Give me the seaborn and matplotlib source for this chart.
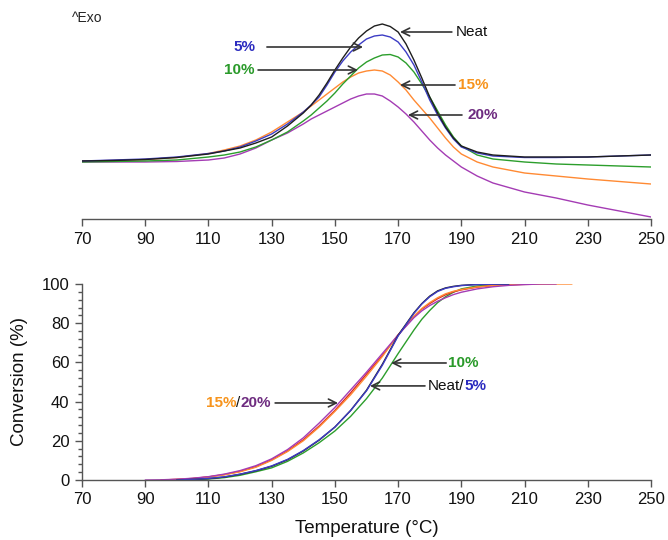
import numpy as np
import pandas as pd
import matplotlib
matplotlib.use("Agg")
import matplotlib.pyplot as plt
import seaborn as sns
from matplotlib.offsetbox import TextArea, HPacker, AnnotationBbox
from matplotlib.ticker import MultipleLocator

# ---------------- DATA ----------------
# Top panel: DSC heat flow (arbitrary units, exo up)
T_dsc = [70, 80, 90, 100, 110, 115, 120, 125, 130, 135, 140, 142.5, 145, 147.5, 150, 152.5,
         155, 157.5, 160, 162.5, 165, 167.5, 170, 172.5, 175, 177.5, 180, 182.5, 185, 187.5,
         190, 195, 200, 210, 220, 230, 240, 250]
hf_neat = [0.58, 0.585, 0.595, 0.615, 0.65, 0.68, 0.71, 0.76, 0.82, 0.93, 1.06, 1.14, 1.24, 1.36,
           1.49, 1.61, 1.72, 1.81, 1.88, 1.93, 1.95, 1.925, 1.87, 1.75, 1.59, 1.41, 1.22, 1.06,
           0.92, 0.81, 0.73, 0.67, 0.64, 0.62, 0.62, 0.62, 0.63, 0.64]
hf_5 = [0.58, 0.59, 0.60, 0.62, 0.655, 0.68, 0.72, 0.78, 0.85, 0.95, 1.07, 1.14, 1.22, 1.34,
        1.47, 1.58, 1.67, 1.74, 1.80, 1.83, 1.84, 1.82, 1.77, 1.67, 1.54, 1.37, 1.19, 1.04,
        0.91, 0.80, 0.72, 0.66, 0.63, 0.615, 0.615, 0.62, 0.63, 0.64]
hf_10 = [0.57, 0.575, 0.58, 0.59, 0.62, 0.64, 0.67, 0.72, 0.79, 0.87, 0.98, 1.04, 1.11, 1.18,
         1.26, 1.35, 1.43, 1.51, 1.57, 1.61, 1.64, 1.645, 1.62, 1.56, 1.47, 1.35, 1.22, 1.08,
         0.94, 0.82, 0.73, 0.64, 0.60, 0.57, 0.55, 0.54, 0.53, 0.52]
hf_15 = [0.58, 0.585, 0.595, 0.615, 0.655, 0.69, 0.73, 0.79, 0.87, 0.97, 1.07, 1.13, 1.19, 1.25,
         1.31, 1.37, 1.42, 1.46, 1.48, 1.49, 1.48, 1.44, 1.37, 1.29, 1.19, 1.10, 1.01, 0.91,
         0.81, 0.72, 0.65, 0.57, 0.52, 0.46, 0.43, 0.40, 0.375, 0.35]
hf_20 = [0.57, 0.57, 0.57, 0.575, 0.59, 0.61, 0.65, 0.71, 0.79, 0.86, 0.95, 1.00, 1.04, 1.08,
         1.12, 1.16, 1.20, 1.23, 1.25, 1.25, 1.23, 1.18, 1.12, 1.05, 0.97, 0.88, 0.79, 0.71,
         0.64, 0.58, 0.52, 0.43, 0.36, 0.27, 0.21, 0.14, 0.08, 0.02]

# Bottom panel: conversion (%)
T_neat = [100, 105, 110, 115, 120, 125, 130, 135, 140, 145, 150, 155, 160, 165, 170,
          175, 177.5, 180, 182.5, 185, 187.5, 190, 195, 200, 205]
conv_neat = [0, 0.3, 0.7, 1.5, 2.9, 4.7, 7.0, 10.3, 14.8, 20.3, 27, 35.5, 45.8, 59, 73.8,
             85.3, 90, 93.8, 96.5, 98, 98.8, 99.3, 99.8, 100, 100]
conv_5 = [0, 0.3, 0.8, 1.6, 3.0, 4.8, 7.2, 10.5, 15, 20.5, 27, 35.5, 45.5, 58.5, 73.5,
          85, 89.8, 93.5, 96.2, 97.8, 98.6, 99.2, 99.7, 99.9, 100]
conv_10 = [0, 0.2, 0.5, 1.2, 2.4, 4.2, 6.2, 9.5, 13.8, 19, 25, 32.5, 41.5, 52, 64.5,
           76.5, 82, 86.5, 90.5, 93.5, 95.8, 97.5, 99, 99.6, 100]
T_15 = [95, 100, 105, 110, 115, 120, 125, 130, 135, 140, 145, 150, 155, 160, 165, 170,
        175, 177.5, 180, 182.5, 185, 187.5, 190, 195, 200, 205, 210, 215, 220, 225]
conv_15 = [0, 0.3, 0.7, 1.5, 2.6, 4.2, 6.5, 10, 14.5, 20, 27, 35, 43.5, 53, 63, 74,
           83.5, 87.5, 90.5, 93, 95, 96.3, 97.2, 98.5, 99.2, 99.6, 99.8, 99.9, 100, 100]
T_red = [95, 100, 105, 110, 115, 120, 125, 130, 135, 140, 145, 150, 155, 160, 165, 170,
         175, 177.5, 180, 182.5, 185, 187.5, 190, 195, 200, 205, 210, 212]
conv_red = [0, 0.3, 0.8, 1.6, 2.8, 4.4, 6.8, 10.3, 14.8, 20.5, 27.5, 35.5, 44.5, 54, 63.5, 74,
            83.5, 87.2, 90, 92.5, 94.5, 96, 97, 98.4, 99.2, 99.6, 99.9, 100]
T_20 = [90, 95, 100, 105, 110, 115, 120, 125, 130, 135, 140, 145, 150, 155, 160, 165, 170,
        175, 177.5, 180, 182.5, 185, 187.5, 190, 195, 200, 205, 210, 215, 220]
conv_20 = [0, 0.1, 0.4, 0.9, 1.7, 3, 4.8, 7.3, 10.8, 15.5, 21.5, 29, 37, 46, 55, 64.5, 74,
           82.8, 86.3, 89, 91.2, 93, 94.6, 95.8, 97.5, 98.6, 99.3, 99.7, 100, 100]

xticks = [70, 90, 110, 130, 150, 170, 190, 210, 230, 250]
yticks = [0, 20, 40, 60, 80, 100]

colors = {"20%": "#a43cb4", "15%": "#ff8a33", "red": "#d82424", "10%": "#2c9e2c",
          "5%": "#3c3cc4", "Neat": "#1e1e1e"}

# ---------------- BUILD FRAMES ----------------
top = pd.concat([
    pd.DataFrame({"T": T_dsc, "v": hf_20, "s": "20%"}),
    pd.DataFrame({"T": T_dsc, "v": hf_15, "s": "15%"}),
    pd.DataFrame({"T": T_dsc, "v": hf_10, "s": "10%"}),
    pd.DataFrame({"T": T_dsc, "v": hf_5, "s": "5%"}),
    pd.DataFrame({"T": T_dsc, "v": hf_neat, "s": "Neat"}),
])
bot = pd.concat([
    pd.DataFrame({"T": T_neat, "v": conv_10, "s": "10%"}),
    pd.DataFrame({"T": T_red, "v": conv_red, "s": "red"}),
    pd.DataFrame({"T": T_15, "v": conv_15, "s": "15%"}),
    pd.DataFrame({"T": T_20, "v": conv_20, "s": "20%"}),
    pd.DataFrame({"T": T_neat, "v": conv_neat, "s": "Neat"}),
    pd.DataFrame({"T": T_neat, "v": conv_5, "s": "5%"}),
])

sns.set_theme(style="white")
plt.rcParams["font.family"] = ["Liberation Sans", "DejaVu Sans"]
plt.rcParams["lines.solid_joinstyle"] = "round"

fig = plt.figure(figsize=(6.68, 5.4), dpi=100)
W, H = 668, 540
ax1 = fig.add_axes([82 / W, 1 - 219 / H, 569 / W, 209 / H])
ax2 = fig.add_axes([82 / W, 1 - 480 / H, 569 / W, 196 / H])

sns.lineplot(data=top, x="T", y="v", hue="s", palette=colors, ax=ax1, legend=False,
             linewidth=1.0, estimator=None, sort=False)
sns.lineplot(data=bot, x="T", y="v", hue="s", palette=colors, ax=ax2, legend=False,
             linewidth=1.0, estimator=None, sort=False)

spine_c = "#555555"
for ax in (ax1, ax2):
    ax.set_xlim(70, 250)
    ax.set_xticks(xticks)
    ax.set_xlabel("")
    ax.set_ylabel("")
    ax.tick_params(axis="x", bottom=True, direction="out", length=5, width=1,
                   color=spine_c, labelsize=12, pad=4, labelcolor="#111111")
    for sp in ax.spines.values():
        sp.set_color(spine_c)
        sp.set_linewidth(1.0)

ax1.set_ylim(0, 2.09)
ax1.set_yticks([])
sns.despine(ax=ax1, left=True)

ax2.set_ylim(0, 100)
ax2.set_yticks(yticks)
ax2.yaxis.set_minor_locator(MultipleLocator(4))
ax2.tick_params(axis="y", which="major", left=True, direction="out", length=5, width=1,
                color=spine_c, labelsize=12, pad=4, labelcolor="#111111")
ax2.tick_params(axis="y", which="minor", left=True, direction="out", length=3, width=1,
                color=spine_c)
sns.despine(ax=ax2)
ax2.set_xlabel("Temperature (\u00b0C)", fontsize=13.5, labelpad=9, color="#111111")
ax2.set_ylabel("Conversion (%)", fontsize=13.5, labelpad=10, color="#111111")

# ---------------- ANNOTATIONS ----------------
arrow = dict(arrowstyle="->", color="#333333", lw=1.2, mutation_scale=14,
             shrinkA=0, shrinkB=0)
fs = 11
txtc = "#111111"

fig.text(72 / W, 1 - 18 / H, "^Exo", fontsize=10, va="center", ha="left", color="#222222")

def arr(ax, tip, tail):
    ax.annotate("", xy=tip, xytext=tail, arrowprops=arrow)

# top panel
arr(ax1, (170.6, 1.87), (187.0, 1.87))
ax1.text(188.3, 1.87, "Neat", fontsize=fs, color=txtc, va="center", ha="left")
arr(ax1, (158.9, 1.72), (128.5, 1.72))
ax1.text(125.0, 1.72, "5%", fontsize=fs, color="#2b2bbf", va="center", ha="right", fontweight="bold")
arr(ax1, (157.3, 1.49), (125.7, 1.49))
ax1.text(124.7, 1.49, "10%", fontsize=fs, color="#2a9a2a", va="center", ha="right", fontweight="bold")
arr(ax1, (170.6, 1.34), (188.0, 1.34))
ax1.text(189.0, 1.34, "15%", fontsize=fs, color="#f7941d", va="center", ha="left", fontweight="bold")
arr(ax1, (173.1, 1.04), (190.2, 1.04))
ax1.text(191.8, 1.04, "20%", fontsize=fs, color="#6e2c80", va="center", ha="left", fontweight="bold")

# bottom panel
def multi(ax, xy, parts, align):
    kids = [TextArea(s, textprops=dict(color=c, fontsize=fs, fontweight=w,
                                       family=["Liberation Sans", "DejaVu Sans"]))
            for s, c, w in parts]
    box = HPacker(children=kids, align="baseline", pad=0, sep=0)
    ab = AnnotationBbox(box, xy, xycoords="data", frameon=False,
                        box_alignment=(align, 0.5), pad=0)
    ax.add_artist(ab)

arr(ax2, (151.0, 39.3), (131.1, 39.3))
multi(ax2, (129.8, 39.3), [("15%", "#f7941d", "bold"), ("/", txtc, "normal"),
                          ("20%", "#6e2c80", "bold")], 1)
arr(ax2, (167.8, 59.7), (185.2, 59.7))
ax2.text(185.8, 59.7, "10%", fontsize=fs, color="#2a9a2a", va="center", ha="left", fontweight="bold")
arr(ax2, (161.1, 48.0), (178.5, 48.0))
multi(ax2, (179.5, 48.0), [("Neat/", txtc, "normal"), ("5%", "#2b2bbf", "bold")], 0)

fig.savefig("out.png", dpi=100, facecolor="white")
